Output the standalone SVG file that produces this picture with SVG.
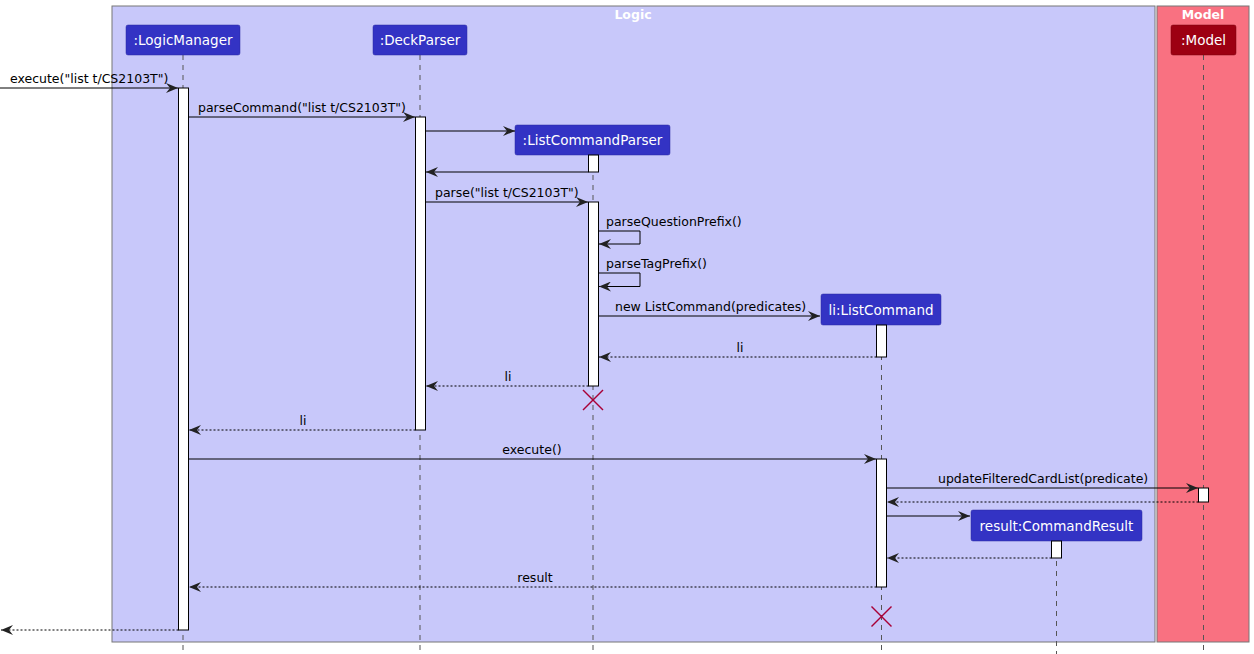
<svg xmlns="http://www.w3.org/2000/svg" width="1254" height="654" viewBox="0 0 1254 654">
<defs>
<style>
text{font-family:"DejaVu Sans","Liberation Sans",sans-serif;}
.lbl{font-size:12.5px;fill:#000;}
.hdr{font-size:13.5px;fill:#fff;}
.ttl{font-size:12.5px;font-weight:bold;fill:#fff;}
.ll{stroke:#555;stroke-width:1;stroke-dasharray:5,5;fill:none;}
.act{fill:#fff;stroke:#000;stroke-width:1;}
.msg{stroke:#000;stroke-width:1;fill:none;}
.ret{stroke:#000;stroke-width:1;fill:none;stroke-dasharray:2,2;}
.x{stroke:#A80036;stroke-width:1.5;}
</style>
<marker id="ah" viewBox="0 0 12 10" refX="12" refY="5" markerWidth="12" markerHeight="10" markerUnits="userSpaceOnUse" orient="auto">
<path d="M0,0 L12,5 L0,10 L4,5 Z" fill="#222"/>
</marker>
</defs>
<g id="box-logic">
<rect x="112" y="6" width="1043" height="636" fill="#C8C8FA" stroke="#777" stroke-width="1"/>
<text class="ttl" x="633" y="19" text-anchor="middle">Logic</text>
</g>
<g id="box-model">
<rect x="1157" y="6" width="92" height="636" fill="#F97181" stroke="#777" stroke-width="1"/>
<text class="ttl" x="1203" y="19" text-anchor="middle">Model</text>
</g>
<g id="lifelines">
<line class="ll" x1="183" y1="55" x2="183" y2="654"/>
<line class="ll" x1="420" y1="55" x2="420" y2="654"/>
<line class="ll" x1="593" y1="155" x2="593" y2="654"/>
<line class="ll" x1="881.5" y1="325" x2="881.5" y2="654"/>
<line class="ll" x1="1056.5" y1="541" x2="1056.5" y2="654"/>
<line class="ll" x1="1203.5" y1="55" x2="1203.5" y2="654"/>
</g>
<g id="p-logicmanager">
<rect x="126" y="25" width="114" height="30" rx="2" fill="#3333C4" stroke="#2a2aa0" stroke-width="0.5"/>
<text class="hdr" x="183" y="45" text-anchor="middle">:LogicManager</text>
</g>
<g id="p-deckparser">
<rect x="373" y="25" width="94" height="30" rx="2" fill="#3333C4" stroke="#2a2aa0" stroke-width="0.5"/>
<text class="hdr" x="420" y="45" text-anchor="middle">:DeckParser</text>
</g>
<g id="p-listcommandparser">
<rect x="515" y="125" width="155" height="30" rx="2" fill="#3333C4" stroke="#2a2aa0" stroke-width="0.5"/>
<text class="hdr" x="592.5" y="145" text-anchor="middle">:ListCommandParser</text>
</g>
<g id="p-listcommand">
<rect x="821" y="294" width="120" height="31" rx="2" fill="#3333C4" stroke="#2a2aa0" stroke-width="0.5"/>
<text class="hdr" x="881" y="315" text-anchor="middle">li:ListCommand</text>
</g>
<g id="p-commandresult">
<rect x="971" y="510" width="171" height="31" rx="2" fill="#3333C4" stroke="#2a2aa0" stroke-width="0.5"/>
<text class="hdr" x="1056.5" y="531" text-anchor="middle">result:CommandResult</text>
</g>
<g id="p-model">
<rect x="1171" y="25" width="65" height="30" rx="2" fill="#9D0012" stroke="#7a000e" stroke-width="0.5"/>
<text class="hdr" x="1203.5" y="45" text-anchor="middle">:Model</text>
</g>
<g id="activations">
<rect class="act" x="178.5" y="88" width="10" height="542"/>
<rect class="act" x="415.5" y="117" width="10" height="313"/>
<rect class="act" x="588.5" y="155" width="10" height="17"/>
<rect class="act" x="588.5" y="202" width="10" height="184"/>
<rect class="act" x="876.5" y="325" width="10" height="32"/>
<rect class="act" x="876.5" y="459" width="10" height="128"/>
<rect class="act" x="1198.5" y="488" width="10" height="14"/>
<rect class="act" x="1051.5" y="541" width="10" height="17"/>
</g>
<g id="connectors">
<line class="msg" x1="0" y1="88" x2="178" y2="88" marker-end="url(#ah)"/>
<text class="lbl" x="10" y="83">execute("list t/CS2103T")</text>
<line class="msg" x1="188.5" y1="117" x2="415" y2="117" marker-end="url(#ah)"/>
<text class="lbl" x="198" y="112">parseCommand("list t/CS2103T")</text>
<line class="msg" x1="425.5" y1="131" x2="515" y2="131" marker-end="url(#ah)"/>
<line class="msg" x1="588.5" y1="172" x2="426" y2="172" marker-end="url(#ah)"/>
<line class="msg" x1="425.5" y1="202" x2="588" y2="202" marker-end="url(#ah)"/>
<text class="lbl" x="435" y="197">parse("list t/CS2103T")</text>
<polyline class="msg" points="598.5,231 640,231 640,244 599,244" marker-end="url(#ah)"/>
<text class="lbl" x="606" y="226">parseQuestionPrefix()</text>
<polyline class="msg" points="598.5,273 640,273 640,286.5 599,286.5" marker-end="url(#ah)"/>
<text class="lbl" x="606" y="268">parseTagPrefix()</text>
<line class="msg" x1="598.5" y1="316" x2="820" y2="316" marker-end="url(#ah)"/>
<text class="lbl" x="615" y="311">new ListCommand(predicates)</text>
<line class="ret" x1="876.5" y1="357" x2="599" y2="357" marker-end="url(#ah)"/>
<text class="lbl" x="740" y="352" text-anchor="middle">li</text>
<line class="ret" x1="588.5" y1="386" x2="426" y2="386" marker-end="url(#ah)"/>
<text class="lbl" x="508" y="381" text-anchor="middle">li</text>
<line class="x" x1="583" y1="390" x2="603" y2="410"/>
<line class="x" x1="603" y1="390" x2="583" y2="410"/>
<line class="ret" x1="415.5" y1="430" x2="189" y2="430" marker-end="url(#ah)"/>
<text class="lbl" x="303" y="425" text-anchor="middle">li</text>
<line class="msg" x1="188.5" y1="459" x2="876" y2="459" marker-end="url(#ah)"/>
<text class="lbl" x="532" y="454" text-anchor="middle">execute()</text>
<line class="msg" x1="886.5" y1="488" x2="1198" y2="488" marker-end="url(#ah)"/>
<text class="lbl" x="938" y="483">updateFilteredCardList(predicate)</text>
<line class="ret" x1="1198.5" y1="502" x2="887" y2="502" marker-end="url(#ah)"/>
<line class="msg" x1="886.5" y1="516" x2="970" y2="516" marker-end="url(#ah)"/>
<line class="ret" x1="1051.5" y1="558" x2="887" y2="558" marker-end="url(#ah)"/>
<line class="ret" x1="876.5" y1="587" x2="189" y2="587" marker-end="url(#ah)"/>
<text class="lbl" x="535" y="582" text-anchor="middle">result</text>
<line class="x" x1="871.5" y1="606.5" x2="891.5" y2="626.5"/>
<line class="x" x1="891.5" y1="606.5" x2="871.5" y2="626.5"/>
<line class="ret" x1="178.5" y1="630" x2="1" y2="630" marker-end="url(#ah)"/>
</g>
</svg>
